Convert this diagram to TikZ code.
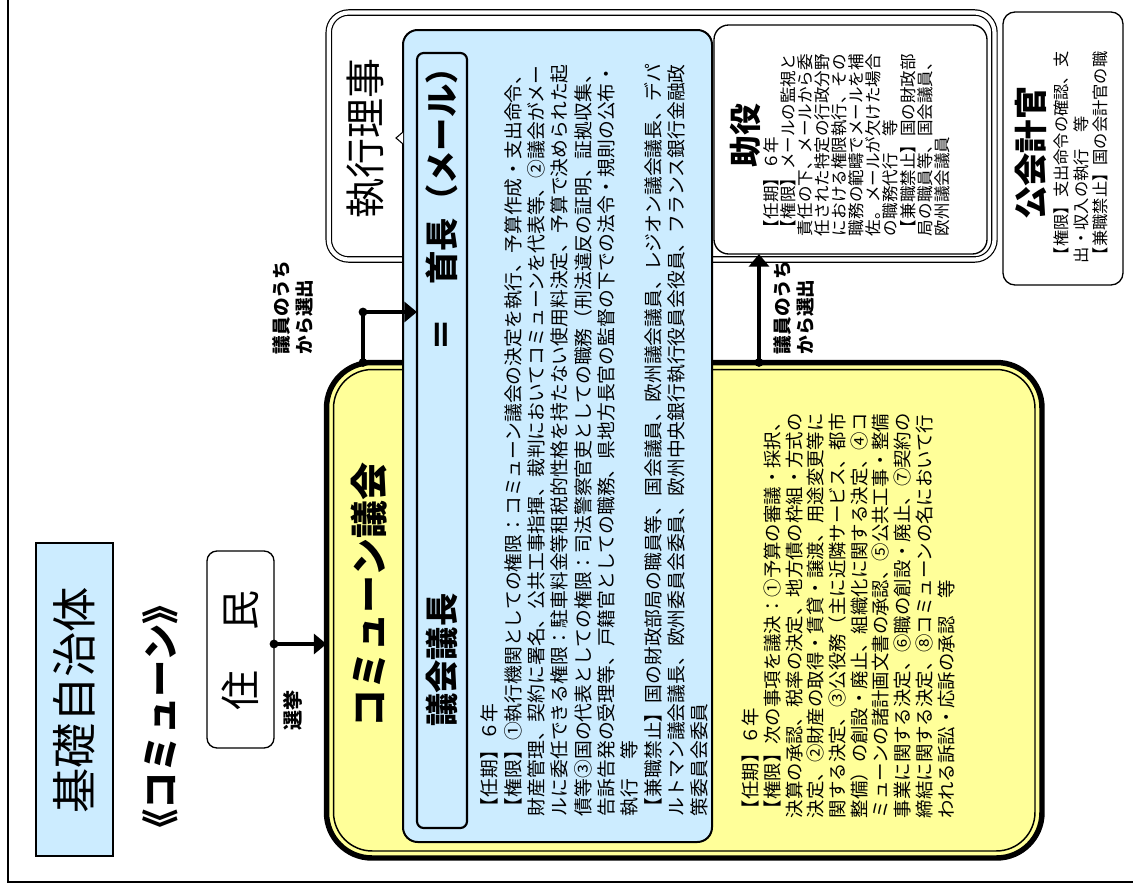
\documentclass[tikz,border=0pt]{standalone}
\usepackage{fontspec}
\setmainfont{Noto Sans CJK JP}
\usetikzlibrary{arrows.meta,calc}
\definecolor{lblue}{HTML}{CCECFF}
\definecolor{lyell}{HTML}{FFFF99}
\lineskiplimit=-100pt
\lineskip=0pt
\begin{document}
\begin{tikzpicture}[x=0.75pt,y=-0.75pt,
  every node/.style={inner sep=0pt, outer sep=0pt},
  vtext/.style={rotate=90, align=left, anchor=north west},
  vtitle/.style={rotate=90, anchor=center},
  conn/.style={line width=2.6pt, draw=black},
  tipA/.style={-{Triangle[length=9.5pt,width=15pt]}},
  dotc/.style={circle, fill=black, minimum size=6.6pt, inner sep=0pt},
  frame/.style={draw=black, line width=1pt}
]
\useasboundingbox[fill=white] (0,0) rectangle (1133,889);
\draw[line width=1pt] (8,0) -- (8,882) -- (1133,882);

% executive board (double border)
\node[draw, double, line width=0.9pt, double distance=3.1pt, fill=white,
      rounded corners=15pt, minimum width=499.3pt, minimum height=185.25pt]
      (exec) at (661.6,136) {};
\node[vtitle, font=\fontsize{30pt}{34pt}\selectfont] (execT) at (366,138) {執行理事};

% yellow council box
\node[draw, fill=lyell, line width=4.1pt, rounded corners=34pt,
      minimum width=536.6pt, minimum height=371.6pt] (yel) at (684.25,610.25) {};
\draw[line width=1.1pt, rounded corners=29pt]
  ($(yel.north west)+(7,7)$) rectangle ($(yel.south east)+(-7,-7)$);

% blue mayor box
\node[draw, fill=lblue, line width=1.5pt, rounded corners=11pt,
      minimum width=231.75pt, minimum height=609pt] (blue) at (557.5,436) {};
\node[draw, line width=1.6pt, rounded corners=5pt,
      minimum width=37.5pt, minimum height=581.25pt] (ttl) at (442,440.5) {};
\node[vtitle, font=\fontsize{25pt}{28pt}\selectfont\bfseries] (ttlA) at (442,660) {議会議長};
\node[vtitle, font=\fontsize{25pt}{28pt}\selectfont\bfseries] (ttlB) at (442,201) {＝　首長（メール）};

% deputy mayor box
\node[frame, fill=white, rounded corners=11pt,
      minimum width=204.75pt, minimum height=171.75pt] (jo) at (850.5,139.5) {};
% public accountant box
\node[frame, fill=white, rounded corners=9pt,
      minimum width=90pt, minimum height=204.75pt] (kai) at (1063,148.5) {};
% basic municipality label
\node[frame, fill=lblue, minimum width=57.75pt, minimum height=234.75pt] (kiso) at (74.5,699.5) {};
\node[vtitle, font=\fontsize{34pt}{38pt}\selectfont] (kisoT) at (74.5,700) {基礎自治体};
\node[vtitle, font=\fontsize{28pt}{32pt}\selectfont\bfseries] (commT) at (160,717) {《コミューン》};
% residents
\node[frame, fill=white, rounded corners=7.5pt,
      minimum width=50.25pt, minimum height=147.75pt] (jumin) at (240.5,649.5) {};
\node[vtitle, font=\fontsize{30pt}{34pt}\selectfont] (juminT) at (240.5,650) {住　民};
\node[vtitle, font=\fontsize{15pt}{18pt}\selectfont\bfseries] (senkyo) at (293,710) {選挙};

% council title
\node[vtitle, font=\fontsize{28.5pt}{32pt}\selectfont\bfseries] (yelT) at (369,595) {コミューン議会};

% body texts
\node[vtext, font=\fontsize{14.1pt}{17.5pt}\selectfont] (blueB) at (481,816) {%
【任期】６年\\
【権限】①執行機関としての権限：コミューン議会の決定を執行、予算作成・支出命令、\\
財産管理、契約に署名、公共工事指揮、裁判においてコミューンを代表等、②議会がメー\\
ルに委任できる権限：駐車料金等租税的性格を持たない使用料決定、予算で決められた起\\
債等③国の代表としての権限：司法警察官吏としての職務（刑法違反の証明、証拠収集、\\
告訴告発の受理等、戸籍官としての職務、県地方長官の監督の下での法令・規則の公布・\\
執行　等\\
【兼職禁止】国の財政部局の職員等、国会議員、欧州議会議員、レジオン議会議長、デパ\\
ルトマン議会議長、欧州委員会委員、欧州中央銀行執行役員会役員、フランス銀行金融政\\
策委員会委員};

\node[vtext, font=\fontsize{13.8pt}{16.3pt}\selectfont] (yelB) at (742,818) {%
【任期】６年\\
【権限】次の事項を議決：①予算の審議・採択、\\
決算の承認、税率の決定、地方債の枠組・方式の\\
決定、②財産の取得・賃貸・譲渡、用途変更等に\\
関する決定、③公役務（主に近隣サービス、都市\\
整備）の創設・廃止、組織化に関する決定、④コ\\
ミューンの諸計画文書の承認、⑤公共工事・整備\\
事業に関する決定、⑥職の創設・廃止、⑦契約の\\
締結に関する決定、⑧コミューンの名において行\\
われる訴訟・応訴の承認　等};

\node[vtitle, font=\fontsize{24pt}{28pt}\selectfont\bfseries] (joT) at (745,135) {助役};
\node[vtext, font=\fontsize{12.4pt}{12.8pt}\selectfont] (joB) at (763.5,236) {%
【任期】６年\\
【権限】メールの監視と\\
責任の下、メールから委\\
任された特定の行政分野\\
における権限執行、その\\
職務の範疇でメールを補\\
佐。メールが欠けた場合\\
の職務代行　等\\
【兼職禁止】国の財政部\\
局の職員等、国会議員、\\
欧州議会議員};

\node[vtitle, font=\fontsize{25pt}{28pt}\selectfont\bfseries] (kaiT) at (1031,153) {公会計官};
\node[vtext, font=\fontsize{12.2pt}{14.6pt}\selectfont] (kaiB) at (1054,263) {%
【権限】支出命令の確認、支\\
出・収入の執行　等\\
【兼職禁止】国の会計官の職};

% labels
\node[vtext, font=\fontsize{14pt}{17pt}\selectfont\bfseries] (lblL) at (273,354) {議員のうち\\から選出};
\node[vtext, font=\fontsize{14pt}{17pt}\selectfont\bfseries] (lblR) at (774,354) {議員のうち\\から選出};

% connectors
\coordinate (a1) at ($(jumin.east)+(0,-5.5)$);
\draw[conn, tipA] (a1) -- (a1 -| yel.west);
\node[dotc] (d1) at (a1) {};

\coordinate (b0) at (363,362.5);
\coordinate (b1) at (363,312);
\draw[conn, tipA] (b0) -- (b1) -- (b1 -| ttl.west);
\node[dotc] (d2) at (b1) {};
\node[dotc] (d3) at (b0) {};

\coordinate (c0) at (759,362.5);
\draw[conn, tipA] (c0) -- (c0 |- jo.south);
\node[dotc] (d4) at (c0) {};

% small open triangle on blue box edge
\draw[fill=white, line width=0.8pt] (403,132) -- (396,138) -- (403,144);
\end{tikzpicture}
\end{document}
